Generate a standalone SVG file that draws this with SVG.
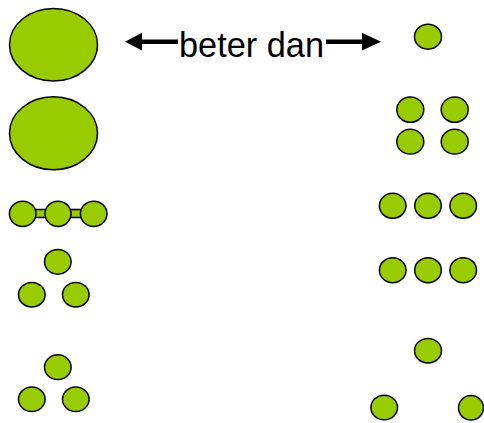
<svg xmlns="http://www.w3.org/2000/svg" width="484" height="423" viewBox="0 0 484 423">
<style>
.n{fill:#99CC00;stroke:#000;stroke-width:1.5}
.a{stroke:#000;stroke-width:4.5;fill:none}
.h{fill:#000}
.t{font-family:"Liberation Sans",Arial,sans-serif;font-size:34.3px;fill:#000}
</style>
<rect width="484" height="423" fill="#fff"/>
<g id="big1"><ellipse class="n" cx="53.5" cy="44.7" rx="44" ry="36.3"/></g>
<g id="big2"><ellipse class="n" cx="53.5" cy="133.3" rx="44" ry="36.5"/></g>
<g id="label"><text class="t" x="251.5" y="56.7" text-anchor="middle">beter dan</text></g>
<g id="connectors">
<line class="a" x1="138" y1="41.7" x2="178" y2="41.7"/>
<polygon class="h" points="125,41.7 142,32.8 142,50.6"/>
<line class="a" x1="326" y1="41.7" x2="366" y2="41.7"/>
<polygon class="h" points="381,41.7 362,32.8 362,50.6"/>
<rect class="n" x="35" y="209.5" width="11" height="8"/>
<rect class="n" x="70.5" y="209.5" width="11" height="8"/>
</g>
<g id="small1"><ellipse class="n" cx="428" cy="36.7" rx="13.5" ry="12.5"/></g>
<g id="quad">
<ellipse class="n" cx="410.3" cy="109.7" rx="13.5" ry="12.6"/>
<ellipse class="n" cx="454.7" cy="109.7" rx="13.5" ry="12.6"/>
<ellipse class="n" cx="410.3" cy="141.7" rx="13.5" ry="12.4"/>
<ellipse class="n" cx="454.7" cy="141.7" rx="13.5" ry="12.4"/>
</g>
<g id="chain">
<ellipse class="n" cx="22.7" cy="213.8" rx="13.3" ry="12.6"/>
<ellipse class="n" cx="58" cy="213.8" rx="13" ry="12.6"/>
<ellipse class="n" cx="93.7" cy="213.8" rx="13.3" ry="12.6"/>
</g>
<g id="tri1">
<ellipse class="n" cx="57.8" cy="261.8" rx="13.3" ry="12.4"/>
<ellipse class="n" cx="31.8" cy="294.7" rx="13.3" ry="12.3"/>
<ellipse class="n" cx="75.8" cy="294.7" rx="13.3" ry="12.3"/>
</g>
<g id="tri2">
<ellipse class="n" cx="57.8" cy="367.2" rx="13.3" ry="12.4"/>
<ellipse class="n" cx="31.8" cy="399.3" rx="13.3" ry="12.3"/>
<ellipse class="n" cx="75.8" cy="399.3" rx="13.3" ry="12.3"/>
</g>
<g id="row1">
<ellipse class="n" cx="392.7" cy="205.8" rx="13.3" ry="12.5"/>
<ellipse class="n" cx="428" cy="205.8" rx="13.3" ry="12.5"/>
<ellipse class="n" cx="463.2" cy="205.8" rx="13.3" ry="12.5"/>
</g>
<g id="row2">
<ellipse class="n" cx="392.7" cy="270.2" rx="13.3" ry="12.5"/>
<ellipse class="n" cx="428" cy="270.2" rx="13.3" ry="12.5"/>
<ellipse class="n" cx="463.2" cy="270.2" rx="13.3" ry="12.5"/>
</g>
<g id="tri3">
<ellipse class="n" cx="428" cy="350.7" rx="13.5" ry="12.3"/>
<ellipse class="n" cx="384.2" cy="407.5" rx="13.3" ry="12.3"/>
<ellipse class="n" cx="471" cy="407.8" rx="12.5" ry="12.2"/>
</g>
</svg>
